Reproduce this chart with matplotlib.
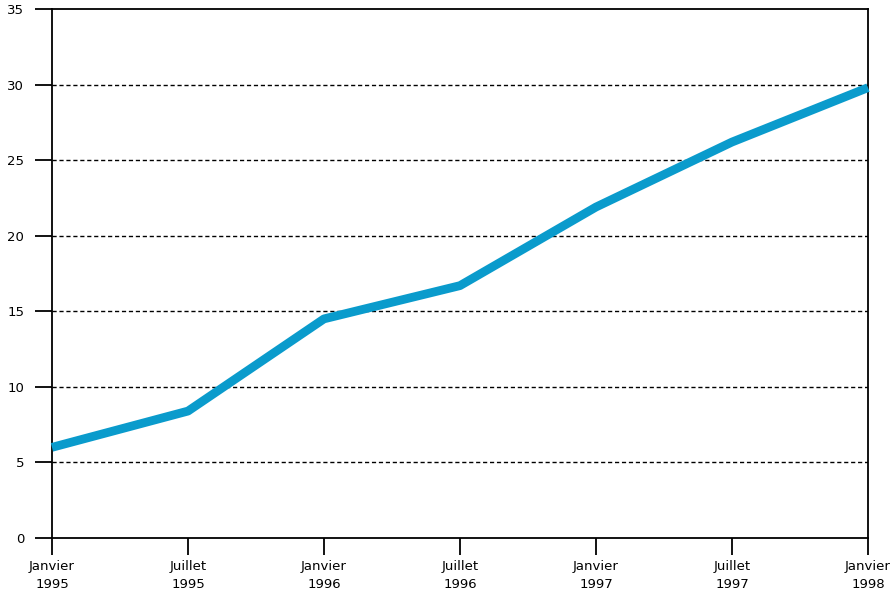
import matplotlib
matplotlib.use("Agg")
import matplotlib.pyplot as plt

# semester points
periods = ["Janvier\n1995", "Juillet\n1995", "Janvier\n1996", "Juillet\n1996",
           "Janvier\n1997", "Juillet\n1997", "Janvier\n1998"]
values = [6.0, 8.4, 14.5, 16.7, 21.9, 26.2, 29.8]
yticks = [0, 5, 10, 15, 20, 25, 30, 35]

fig = plt.figure(figsize=(8.96, 6.05), dpi=100)
ax = fig.add_axes([0.058, 0.1107, 0.9107, 0.8743])

x = list(range(len(periods)))
ax.plot(x, values, color="#0a9bcc", linewidth=6.3, solid_capstyle="butt",
        solid_joinstyle="round", clip_on=False, zorder=3)

ax.set_xlim(0, len(periods) - 1)
ax.set_ylim(0, 35)
ax.set_xticks(x)
ax.set_xticklabels(periods, fontsize=9.5, linespacing=1.45)
ax.set_yticks(yticks)
ax.set_yticklabels([str(v) for v in yticks], fontsize=9.5)

for v in yticks[1:-1]:
    ax.axhline(v, color="black", linewidth=1.0, linestyle=(0, (3, 2)), zorder=1)

ax.tick_params(axis="both", direction="out", length=12, width=1.3, color="black")
ax.tick_params(axis="y", pad=8)
ax.tick_params(axis="x", pad=4)
for s in ax.spines.values():
    s.set_linewidth(1.3)

fig.savefig("out.png", dpi=100)
